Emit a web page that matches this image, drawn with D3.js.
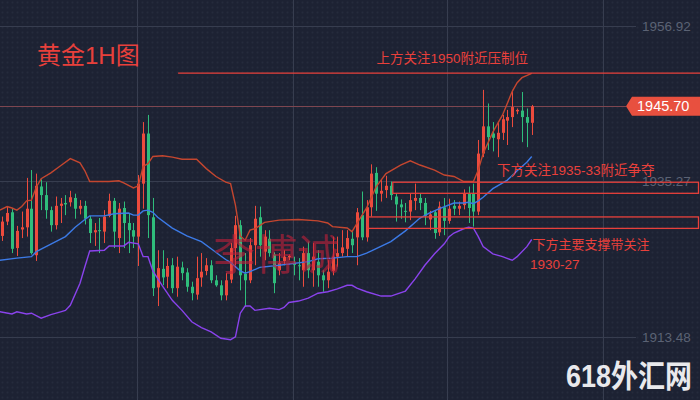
<!DOCTYPE html>
<html>
<head>
<meta charset="utf-8">
<script src="https://cdn.jsdelivr.net/npm/d3@7/dist/d3.min.js"></script>
<style>
  html, body { margin: 0; padding: 0; background: #1d2233; overflow: hidden; }
  #chart svg { display: block; }
</style>
</head>
<body>
<div id="chart"></div>
<script>
// gold 1H candles, oldest first
const opens = [
  1927.6,1929.6,1930.9,1925.9,1928.5,1928.8,1931.4,1924.9,1934.5,1933.3,
  1931.2,1929.1,1931.8,1932.2,1932.3,1932.9,1931.4,1931.8,1930.0,1928.1,
  1928.4,1928.2,1930.4,1932.5,1927.3,1931.5,1929.4,1928.4,1927.5,1934.9,
  1941.9,1930.2,1920.4,1923.0,1921.9,1923.5,1920.3,1923.2,1922.5,1920.5,
  1919.4,1921.8,1922.7,1923.5,1921.4,1920.7,1919.3,1921.5,1925.9,1929.1,
  1922.3,1921.4,1926.3,1930.2,1925.4,1927.2,1925.0,1922.8,1924.1,1924.6,
  1923.7,1923.5,1922.8,1925.2,1922.8,1924.0,1922.1,1921.4,1922.7,1924.7,
  1925.2,1925.8,1927.2,1927.4,1930.5,1927.4,1931.6,1936.4,1933.5,1934.0,
  1934.6,1933.1,1932.0,1931.1,1931.0,1932.5,1932.9,1932.2,1929.9,1930.9,
  1928.1,1931.6,1929.7,1931.8,1931.4,1931.9,1933.5,1933.5,1931.0,1939.1,
  1942.9,1941.9,1941.1,1942.0,1943.7,1944.2,1945.0,1945.1,1944.2,1943.4];
const highs = [
  1930.3,1931.7,1931.5,1929.0,1931.0,1935.7,1936.8,1936.3,1935.5,1935.1,
  1931.7,1933.1,1932.9,1933.3,1933.9,1933.5,1932.6,1932.5,1930.4,1929.4,
  1930.1,1931.2,1933.5,1932.9,1932.2,1932.4,1930.8,1929.4,1936.1,1943.5,
  1944.5,1932.9,1925.6,1925.6,1924.5,1924.5,1924.7,1924.0,1923.1,1921.2,
  1924.7,1925.2,1924.5,1924.2,1922.1,1921.4,1922.4,1926.6,1930.4,1929.8,
  1925.2,1927.3,1931.8,1931.7,1928.4,1928.4,1925.3,1925.2,1925.6,1925.0,
  1924.7,1924.5,1926.1,1926.8,1926.6,1925.6,1922.8,1924.2,1927.5,1927.5,
  1928.4,1928.4,1928.3,1931.5,1933.8,1932.6,1937.6,1937.2,1935.4,1936.0,
  1935.2,1933.6,1932.7,1932.2,1933.5,1934.9,1933.6,1932.9,1931.1,1931.2,
  1932.4,1932.9,1932.8,1932.6,1932.4,1934.1,1934.5,1934.9,1941.0,1948.0,
  1946.1,1943.5,1943.5,1944.5,1945.2,1948.0,1945.4,1947.7,1945.4,1945.9];
const lows = [
  1926.9,1929.1,1925.2,1924.8,1927.3,1927.5,1925.0,1924.1,1931.2,1930.0,
  1928.2,1928.5,1929.4,1930.5,1931.7,1930.0,1930.6,1929.2,1926.6,1926.2,
  1925.2,1926.6,1930.2,1925.9,1925.2,1925.9,1925.2,1925.9,1923.4,1931.4,
  1927.3,1919.2,1917.8,1920.7,1920.3,1919.6,1919.1,1921.4,1919.8,1918.6,
  1918.7,1920.5,1922.1,1921.0,1920.5,1918.6,1918.6,1921.0,1923.5,1920.0,
  1917.7,1921.0,1923.5,1924.7,1924.2,1924.7,1919.6,1922.1,1923.5,1924.2,
  1922.1,1921.4,1920.5,1921.7,1920.5,1920.5,1919.8,1920.3,1922.1,1923.3,
  1924.7,1924.7,1925.2,1923.5,1927.0,1926.8,1930.3,1931.1,1932.4,1932.9,
  1932.6,1929.6,1930.0,1929.5,1929.8,1931.2,1931.2,1929.1,1928.4,1927.2,
  1927.6,1927.7,1929.3,1930.5,1930.5,1931.3,1929.4,1928.9,1930.5,1938.6,
  1939.6,1939.4,1938.6,1941.0,1940.3,1942.8,1944.6,1940.7,1940.0,1941.7];
const closes = [
  1929.6,1930.8,1925.8,1928.3,1928.8,1931.4,1925.2,1934.6,1933.3,1931.2,
  1929.1,1931.8,1932.1,1932.0,1933.0,1931.4,1931.8,1930.0,1928.0,1928.4,
  1928.3,1930.3,1932.5,1928.2,1931.4,1929.4,1928.4,1927.5,1934.9,1941.9,
  1930.5,1920.3,1923.1,1921.8,1923.4,1920.3,1923.3,1922.4,1920.5,1919.6,
  1921.7,1922.6,1923.5,1921.4,1920.7,1919.3,1921.4,1925.9,1929.1,1922.1,
  1921.4,1926.3,1930.0,1926.3,1927.5,1925.2,1921.0,1923.8,1924.7,1924.8,
  1923.6,1923.4,1925.2,1922.8,1924.7,1922.1,1921.4,1922.6,1924.7,1925.2,
  1926.0,1927.3,1926.3,1930.9,1927.4,1931.6,1936.3,1933.5,1933.9,1934.6,
  1933.3,1932.0,1931.6,1931.0,1932.6,1932.9,1932.2,1930.4,1930.6,1928.0,
  1931.7,1929.7,1931.4,1931.4,1931.8,1933.5,1931.5,1931.0,1939.1,1942.9,
  1941.4,1941.3,1942.0,1943.9,1944.2,1945.6,1945.2,1944.2,1943.4,1945.7];

// bollinger bands, read at some candle indexes
const upperAt = [-0.5,1,2,3,4,5,6,7,8,10,12,14,16,17,18,20,22,24,25,27,28,29,30,31,33,35,37,40,42,44,46,47,48,49,50,51,52,54,57,61,65,67,68,71,72,73,75,77,79,82,84,86,89,91,93,95,97,98,99,101,103,105,106,107,109];
const upperVal = [1931.2,1931.7,1931.5,1931.2,1931.7,1932.5,1932.6,1934.4,1935.6,1936.4,1937.4,1938.4,1937.8,1936.7,1935.2,1935.2,1935.2,1935.3,1935.0,1934.3,1934.6,1937.3,1937.7,1938.7,1938.8,1938.6,1938.3,1938.3,1937.0,1935.9,1935.1,1934.9,1931.9,1927.6,1927.0,1928.4,1928.6,1929.5,1929.8,1929.9,1929.7,1929.4,1928.9,1928.7,1928.2,1929.3,1931.5,1934.5,1936.3,1937.5,1938.1,1937.5,1936.8,1936.1,1935.9,1935.2,1935.2,1936.8,1939.1,1942.1,1944.5,1947.8,1949.0,1949.7,1950.3];
const midAt = [-0.5,3,6,7,9,11,13,15,17,18,21,23,26,27,28,29,30,31,32,35,38,41,43,45,46,47,49,50,51,53,57,63,65,68,71,73,75,76,80,83,86,88,90,93,95,96,97,98,99,101,104,106,108,109];
const midVal = [1924.2,1924.5,1924.7,1925.4,1926.1,1926.8,1927.5,1928.8,1929.9,1930.4,1930.4,1930.7,1930.8,1930.5,1930.5,1931.1,1931.2,1930.9,1930.2,1928.7,1927.6,1926.8,1925.8,1924.8,1924.3,1923.9,1922.7,1922.4,1922.6,1923.2,1923.5,1924.0,1924.4,1924.5,1924.7,1924.7,1925.2,1925.5,1926.8,1928.3,1930.1,1930.8,1931.4,1932.2,1932.2,1932.3,1932.1,1932.5,1933.0,1934.2,1935.4,1936.7,1937.9,1938.7];
const lowAt = [-0.5,2,3,5,6,8,10,12,13,14,16,17,18,21,22,25,26,28,29,30,31,33,35,37,39,41,43,45,47,48,49,50,51,52,55,57,58,59,61,63,65,67,69,71,72,73,75,78,80,83,85,87,89,91,92,93,95,96,97,98,99,101,103,105,106,108,109];
const lowVal = [1917.0,1916.7,1917.0,1916.7,1916.8,1916.1,1916.6,1917.0,1917.2,1917.9,1921.0,1923.3,1925.5,1925.6,1926.2,1926.2,1926.7,1926.5,1924.7,1924.7,1922.7,1920.6,1918.6,1917.2,1915.6,1914.8,1914.2,1913.3,1913.1,1913.5,1916.8,1917.8,1917.8,1917.2,1917.5,1917.3,1917.6,1918.3,1918.5,1918.9,1919.6,1919.8,1920.2,1920.7,1920.7,1920.3,1919.8,1919.2,1919.2,1919.9,1921.6,1923.5,1925.1,1926.5,1927.5,1928.0,1928.6,1928.8,1928.7,1927.5,1926.1,1925.1,1924.7,1924.2,1924.7,1926.1,1927.1];

const priceTicks = [1956.92, 1935.27, 1913.48];
const lastPrice = 1945.70;
const timeGrid = [27.7, 59.8, 91.6, 123.7];

// drawn levels
const resistPrice = 1950.35, resistFrom = 36.2;
const zoneTops = [1935.1, 1930.25];
const zoneBottoms = [1933.55, 1928.65];
const zoneFrom = [80.4, 75.3];

const title = "黄金1H图";
const notes = ["上方关注1950附近压制位", "下方关注1935-33附近争夺", "下方主要支撑带关注", "1930-27"];

const width = 700, height = 400;
const cjk = '"Liberation Sans", "Noto Sans CJK SC", sans-serif';
const latin = '"Liberation Sans", Arial, sans-serif';
const red = "#e8403b", up = "#ec4b3d", down = "#2fbd7b";

const svg = d3.select("#chart").append("svg")
    .attr("width", width)
    .attr("height", height);

const defs = svg.append("defs");
defs.append("pattern")
    .attr("id", "dots")
    .attr("width", 5).attr("height", 5)
    .attr("patternUnits", "userSpaceOnUse")
  .append("circle")
    .attr("cx", 2.5).attr("cy", 2.5).attr("r", 1)
    .attr("fill", "#252b3d");

svg.append("rect").attr("width", width).attr("height", height).attr("fill", "#1d2233");
svg.append("rect").attr("width", width).attr("height", height).attr("fill", "url(#dots)");

const x = d3.scaleLinear().domain([0, opens.length - 1]).range([2.3, 531.7]);
const y = d3.scaleLinear().domain([1913.48, 1956.92]).range([337, 26]);

// grid
svg.append("g").selectAll("line").data(priceTicks).join("line")
    .attr("x1", 0).attr("x2", 636)
    .attr("y1", d => Math.round(y(d)) + 0.5).attr("y2", d => Math.round(y(d)) + 0.5)
    .attr("stroke", "#373d4f");
svg.append("g").selectAll("line").data(timeGrid).join("line")
    .attr("x1", d => Math.round(x(d)) + 0.5).attr("x2", d => Math.round(x(d)) + 0.5)
    .attr("y1", 0).attr("y2", height)
    .attr("stroke", "#373d4f");

svg.append("g").selectAll("text").data(priceTicks).join("text")
    .attr("x", 642).attr("y", d => y(d) + 1.5)
    .attr("dominant-baseline", "middle")
    .attr("font-family", latin)
    .attr("font-size", 13.5)
    .attr("fill", "#5b6274")
    .text(d => d.toFixed(2));

// last price line
svg.append("line")
    .attr("x1", 0).attr("x2", 626)
    .attr("y1", Math.round(y(lastPrice)) + 0.5).attr("y2", Math.round(y(lastPrice)) + 0.5)
    .attr("stroke", "#7d4650").attr("stroke-width", 1);

// candles
const candles = opens.map((o, i) => ({ i, o, h: highs[i], l: lows[i], c: closes[i] }));
const cg = svg.append("g");
cg.selectAll("line").data(candles).join("line")
    .attr("x1", d => Math.round(x(d.i)) + 0.5).attr("x2", d => Math.round(x(d.i)) + 0.5)
    .attr("y1", d => y(d.h)).attr("y2", d => y(d.l))
    .attr("stroke", d => d.c >= d.o ? up : down)
    .attr("stroke-width", 1);
cg.selectAll("rect").data(candles).join("rect")
    .attr("x", d => Math.round(x(d.i)) - 1)
    .attr("width", 3)
    .attr("y", d => y(Math.max(d.o, d.c)))
    .attr("height", d => Math.max(1, Math.abs(y(d.o) - y(d.c))))
    .attr("fill", d => d.c >= d.o ? up : down);

// bands
const bandLine = d3.line().x(d => x(d[0])).y(d => y(d[1]));
const bands = [
  { at: upperAt, val: upperVal, color: "#c4462f" },
  { at: midAt, val: midVal, color: "#3c7ae6" },
  { at: lowAt, val: lowVal, color: "#8a43ec" }
];
svg.append("g").selectAll("path").data(bands).join("path")
    .attr("d", b => bandLine(b.at.map((a, k) => [a, b.val[k]])))
    .attr("fill", "none")
    .attr("stroke", b => b.color)
    .attr("stroke-width", 1.4);

// drawn levels
svg.append("line")
    .attr("x1", x(resistFrom)).attr("x2", width)
    .attr("y1", y(resistPrice)).attr("y2", y(resistPrice))
    .attr("stroke", red).attr("stroke-width", 1.3);

svg.append("g").selectAll("rect").data(zoneTops).join("rect")
    .attr("x", (d, k) => x(zoneFrom[k]))
    .attr("y", d => y(d))
    .attr("width", (d, k) => width - 1.5 - x(zoneFrom[k]))
    .attr("height", (d, k) => y(zoneBottoms[k]) - y(d))
    .attr("fill", "none")
    .attr("stroke", red)
    .attr("stroke-width", 1.3);

// last price tag
const ly = y(lastPrice);
svg.append("path")
    .attr("d", `M626,${ly} L632,${ly - 9.5} L700,${ly - 9.5} L700,${ly + 9.5} L632,${ly + 9.5} Z`)
    .attr("fill", "#e8503f");
svg.append("text")
    .attr("x", 637).attr("y", ly + 1)
    .attr("dominant-baseline", "middle")
    .attr("font-family", latin)
    .attr("font-size", 14.5)
    .attr("fill", "#ffffff")
    .text(lastPrice.toFixed(2));

// texts
svg.append("text")
    .attr("x", 37).attr("y", 64.3)
    .attr("font-family", cjk).attr("font-size", 24)
    .attr("fill", red)
    .text(title);

const notePos = [[376.5, 63.4, 13.5], [497, 175.2, 13.5], [532.5, 248.8, 13], [530, 269.3, 13.5]];
svg.append("g").selectAll("text").data(notes).join("text")
    .attr("x", (d, k) => notePos[k][0])
    .attr("y", (d, k) => notePos[k][1])
    .attr("font-size", (d, k) => notePos[k][2])
    .attr("font-family", cjk)
    .attr("fill", red)
    .text(d => d);

// watermarks
svg.append("text")
    .attr("x", 213).attr("y", 270)
    .attr("font-family", '"Noto Sans CJK SC", sans-serif').attr("font-size", 42)
    .attr("fill", "#c4203a").attr("fill-opacity", 0.6)
    .text("李博诚");

svg.append("text")
    .attr("transform", "translate(566,387) scale(1,1.15)")
    .attr("font-family", cjk).attr("font-size", 27).attr("font-weight", "bold")
    .attr("fill", "#e9e9ec")
    .text("618外汇网");
</script>
</body>
</html>
